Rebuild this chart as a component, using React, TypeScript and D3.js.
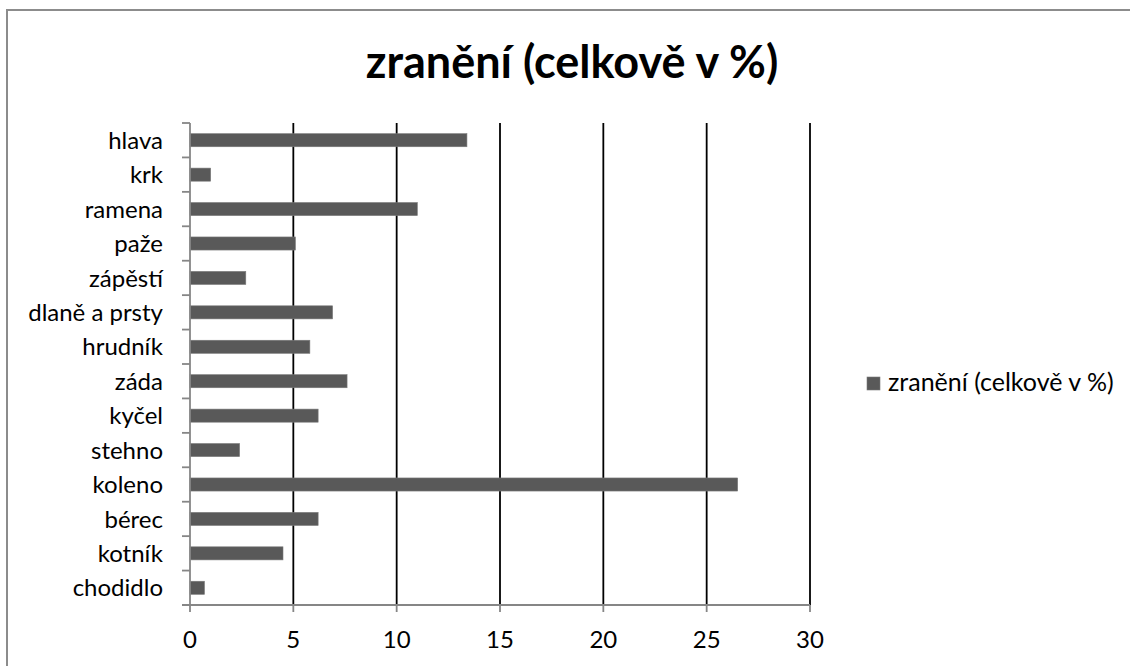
import React from "react";
import * as d3 from "d3";

const categories = [
  "hlava",
  "krk",
  "ramena",
  "paže",
  "zápěstí",
  "dlaně a prsty",
  "hrudník",
  "záda",
  "kyčel",
  "stehno",
  "koleno",
  "bérec",
  "kotník",
  "chodidlo",
];
const values = [13.4, 1.0, 11.0, 5.1, 2.7, 6.9, 5.8, 7.6, 6.2, 2.4, 26.5, 6.2, 4.5, 0.7];
const xTicks = [0, 5, 10, 15, 20, 25, 30];
const title = "zranění (celkově v %)";
const seriesName = "zranění (celkově v %)";

const W = 1130;
const H = 666;
const FONT = "Lato, 'Open Sans', sans-serif";

export default function App() {
  const x = d3.scaleLinear().domain([0, 30]).range([190, 810]);
  const y = d3
    .scaleBand<string>()
    .domain(categories)
    .range([123, 605])
    .paddingInner(0.62)
    .paddingOuter(0.31);
  const step = y.step();
  const top = 123;
  const bottom = 605;
  const bounds = d3.range(categories.length + 1).map((i) => top + i * step);

  return (
    <div style={{ position: "absolute", left: 0, top: 0 }}>
      <svg width={W} height={H} style={{ display: "block", background: "#fff" }}>
        <rect x={7} y={10} width={W + 20} height={H + 20} fill="#fff" stroke="#8c8c8c" strokeWidth={2} />
        <text
          x={572}
          y={78}
          textAnchor="middle"
          fontFamily={FONT}
          fontWeight="bold"
          fontSize={45}
          fill="#000"
        >
          {title}
        </text>
        {xTicks
          .filter((t) => t > 0)
          .map((t) => (
            <line key={"g" + t} x1={x(t)} x2={x(t)} y1={top} y2={bottom} stroke="#000" strokeWidth={1.8} />
          ))}
        {categories.map((c, i) => (
          <rect
            key={c}
            x={x(0)}
            y={y(c)}
            width={x(values[i]) - x(0)}
            height={y.bandwidth()}
            fill="#595959"
            stroke="#7a7a7a"
            strokeWidth={0.6}
          />
        ))}
        <line x1={x(0)} x2={x(0)} y1={top} y2={bottom} stroke="#868686" strokeWidth={1.8} />
        {bounds.map((b, i) => (
          <line key={"yt" + i} x1={182} x2={x(0)} y1={b} y2={b} stroke="#868686" strokeWidth={1.8} />
        ))}
        {categories.map((c) => (
          <text
            key={"yl" + c}
            x={163}
            y={(y(c) as number) + y.bandwidth() / 2}
            dy="0.36em"
            textAnchor="end"
            fontFamily={FONT}
            fontSize={24}
            fill="#000"
          >
            {c}
          </text>
        ))}
        <line x1={182} x2={x(30)} y1={bottom} y2={bottom} stroke="#868686" strokeWidth={1.8} />
        {xTicks.map((t) => (
          <line key={"xt" + t} x1={x(t)} x2={x(t)} y1={bottom} y2={bottom + 7} stroke="#868686" strokeWidth={1.8} />
        ))}
        {xTicks.map((t) => (
          <text
            key={"xl" + t}
            x={x(t)}
            y={648}
            textAnchor="middle"
            fontFamily={FONT}
            fontSize={24}
            fill="#000"
          >
            {t}
          </text>
        ))}
        <rect x={867} y={377} width={13} height={13} fill="#595959" stroke="#7a7a7a" strokeWidth={0.6} />
        <text x={888} y={391} fontFamily={FONT} fontSize={25} fill="#000">
          {seriesName}
        </text>
      </svg>
    </div>
  );
}
